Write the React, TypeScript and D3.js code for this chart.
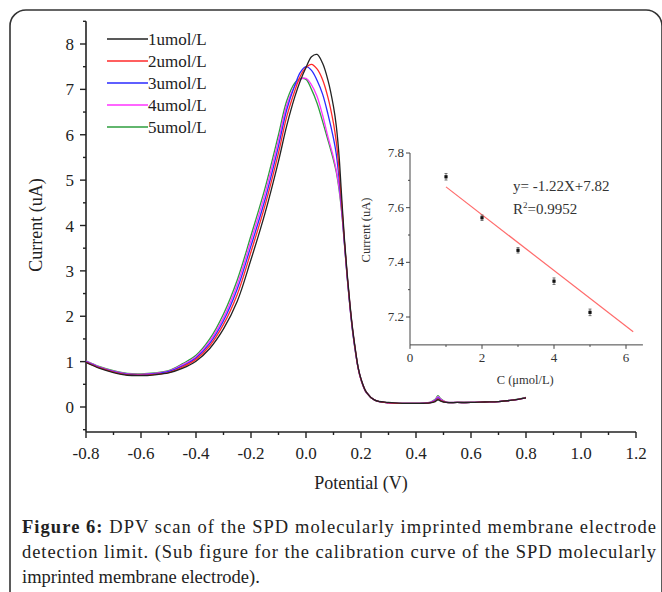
import React from "react";
import * as d3 from "d3";

// ---------- Data ----------
const potentials = [-0.8, -0.75, -0.7, -0.65, -0.6, -0.55, -0.5, -0.45, -0.4, -0.35, -0.3, -0.25, -0.2, -0.15, -0.1, -0.07, -0.04, -0.02, 0, 0.02, 0.04, 0.06, 0.08, 0.1, 0.11, 0.12, 0.13, 0.14, 0.15, 0.16, 0.17, 0.18, 0.19, 0.2, 0.22, 0.25, 0.3, 0.35, 0.4, 0.45, 0.47, 0.48, 0.49, 0.51, 0.55, 0.6, 0.65, 0.7, 0.75, 0.8];

const series1 = [0.98, 0.85, 0.76, 0.7, 0.69, 0.71, 0.75, 0.85, 1.01, 1.29, 1.72, 2.33, 3.25, 4.25, 5.42, 6.2, 6.85, 7.2, 7.48, 7.72, 7.77, 7.58, 7.2, 6.62, 6.2, 5.55, 4.6, 3.68, 2.92, 2.26, 1.7, 1.25, 0.86, 0.62, 0.32, 0.15, 0.1, 0.08, 0.08, 0.09, 0.12, 0.16, 0.13, 0.1, 0.1, 0.1, 0.11, 0.12, 0.15, 0.2];
const series2 = [0.99, 0.86, 0.77, 0.71, 0.7, 0.72, 0.76, 0.88, 1.05, 1.35, 1.82, 2.48, 3.42, 4.42, 5.6, 6.4, 6.98, 7.3, 7.48, 7.55, 7.45, 7.22, 6.82, 6.25, 5.85, 5.25, 4.45, 3.64, 2.88, 2.23, 1.68, 1.23, 0.85, 0.61, 0.32, 0.15, 0.09, 0.08, 0.08, 0.09, 0.13, 0.18, 0.14, 0.1, 0.1, 0.1, 0.11, 0.12, 0.15, 0.2];
const series3 = [1.0, 0.87, 0.78, 0.72, 0.71, 0.73, 0.78, 0.9, 1.08, 1.4, 1.9, 2.6, 3.55, 4.55, 5.75, 6.55, 7.1, 7.38, 7.5, 7.42, 7.2, 6.9, 6.45, 5.92, 5.58, 5.05, 4.38, 3.6, 2.86, 2.21, 1.66, 1.22, 0.85, 0.61, 0.32, 0.15, 0.09, 0.08, 0.08, 0.09, 0.14, 0.2, 0.15, 0.1, 0.1, 0.1, 0.11, 0.12, 0.15, 0.2];
const series4 = [1.01, 0.88, 0.79, 0.73, 0.72, 0.74, 0.79, 0.93, 1.11, 1.45, 1.97, 2.7, 3.67, 4.68, 5.88, 6.65, 7.08, 7.22, 7.24, 7.1, 6.85, 6.44, 5.95, 5.5, 5.22, 4.85, 4.3, 3.58, 2.85, 2.2, 1.65, 1.21, 0.84, 0.6, 0.31, 0.15, 0.09, 0.08, 0.08, 0.1, 0.16, 0.23, 0.17, 0.11, 0.1, 0.1, 0.11, 0.12, 0.15, 0.2];
const series5 = [1.02, 0.89, 0.8, 0.74, 0.73, 0.75, 0.8, 0.95, 1.14, 1.5, 2.05, 2.8, 3.78, 4.8, 6.0, 6.75, 7.15, 7.24, 7.22, 7.0, 6.7, 6.3, 5.88, 5.44, 5.18, 4.8, 4.28, 3.57, 2.84, 2.19, 1.64, 1.2, 0.84, 0.6, 0.31, 0.15, 0.09, 0.08, 0.08, 0.1, 0.17, 0.25, 0.18, 0.11, 0.1, 0.1, 0.11, 0.12, 0.15, 0.21];

const seriesNames = ["1umol/L", "2umol/L", "3umol/L", "4umol/L", "5umol/L"];
const seriesColors = ["#222222", "#ff2a2a", "#2a2aff", "#ff33ff", "#2e9e3e"];
const allSeries = [series1, series2, series3, series4, series5];
const drawOrder = [4, 3, 2, 1, 0];

const xTicks = [-0.8, -0.6, -0.4, -0.2, 0.0, 0.2, 0.4, 0.6, 0.8, 1.0, 1.2];
const yTicks = [0, 1, 2, 3, 4, 5, 6, 7, 8];

// inset calibration data
const calC = [1, 2, 3, 4, 5];
const calI = [7.713, 7.563, 7.444, 7.331, 7.217];
const calErr = [0.012, 0.01, 0.01, 0.012, 0.012];
const fitX = [1.0, 6.2];
const fitY = [7.676, 7.146];
const insetXTicks = [0, 2, 4, 6];
const insetYTicks = [7.2, 7.4, 7.6, 7.8];

const captionLines = [
  "DPV scan of the SPD molecularly imprinted membrane electrode",
  "detection limit. (Sub figure for the calibration curve of the SPD molecularly",
  "imprinted membrane electrode).",
];

const FONT = "'Liberation Serif', 'Times New Roman', serif";

export default function App() {
  const W = 662, H = 592;
  const x = d3.scaleLinear().domain([-0.8, 1.2]).range([86, 636]);
  const y = d3.scaleLinear().domain([0, 8]).range([407, 44]);
  const yBottom = 432;
  const yTop = y(8.5);

  const line = d3
    .line<number>()
    .x((_, i) => x(potentials[i]))
    .y((d) => y(d))
    .curve(d3.curveCatmullRom.alpha(0.5));

  const xMinor = d3.range(-0.7, 1.2, 0.2);
  const yMinor = d3.range(-0.5, 8.6, 1);

  // inset scales
  const ix = d3.scaleLinear().domain([0, 6]).range([410, 626]);
  const iy = d3.scaleLinear().domain([7.2, 7.8]).range([317, 153]);
  const ixEnd = ix(6.47);
  const iyBottom = iy(7.098);
  const ixMinor = [1, 3, 5];
  const iyMinor = [7.3, 7.5, 7.7];

  return (
    <svg width={W} height={H} style={{ position: "absolute", left: 0, top: 0 }} fontFamily={FONT}>
      <rect x={0} y={0} width={W} height={H} fill="#fff" />
      <rect x={10} y={10} width={652} height={600} rx={16} ry={16} fill="none" stroke="#333" strokeWidth={1.6} />

      {/* main axes */}
      <line x1={86} x2={86} y1={yTop} y2={yBottom} stroke="#222" strokeWidth={1.6} />
      <line x1={86} x2={636} y1={yBottom} y2={yBottom} stroke="#222" strokeWidth={1.6} />
      {xTicks.map((t) => (
        <g key={"xt" + t}>
          <line x1={x(t)} x2={x(t)} y1={yBottom} y2={yBottom + 6} stroke="#222" strokeWidth={1.4} />
          <text x={x(t)} y={459} textAnchor="middle" fontSize={17} fill="#222">
            {t.toFixed(1)}
          </text>
        </g>
      ))}
      {xMinor.map((t) => (
        <line key={"xm" + t} x1={x(t)} x2={x(t)} y1={yBottom} y2={yBottom + 3} stroke="#222" strokeWidth={1.4} />
      ))}
      {yTicks.map((t) => (
        <g key={"yt" + t}>
          <line x1={80} x2={86} y1={y(t)} y2={y(t)} stroke="#222" strokeWidth={1.4} />
          <text x={74} y={y(t) + 6} textAnchor="end" fontSize={17} fill="#222">
            {t}
          </text>
        </g>
      ))}
      {yMinor.map((t) => (
        <line key={"ym" + t} x1={83} x2={86} y1={y(t)} y2={y(t)} stroke="#222" strokeWidth={1.4} />
      ))}
      <text x={361} y={489} textAnchor="middle" fontSize={18} fill="#222">
        Potential (V)
      </text>
      <text transform={`translate(42,225) rotate(-90)`} textAnchor="middle" fontSize={18} fill="#222">
        Current (uA)
      </text>

      {/* curves */}
      {drawOrder.map((i) => (
        <path key={"s" + i} d={line(allSeries[i]) || ""} fill="none" stroke={seriesColors[i]} strokeWidth={1.3} />
      ))}

      {/* legend */}
      {seriesNames.map((n, i) => (
        <g key={"lg" + i}>
          <line x1={107} x2={148} y1={39 + i * 22} y2={39 + i * 22} stroke={seriesColors[i]} strokeWidth={1.4} />
          <text x={148} y={45 + i * 22} fontSize={17} fill="#222">
            {n}
          </text>
        </g>
      ))}

      {/* inset */}
      <line x1={410} x2={410} y1={153} y2={iyBottom} stroke="#444" strokeWidth={1} />
      <line x1={410} x2={ixEnd} y1={iyBottom} y2={iyBottom} stroke="#444" strokeWidth={1} />
      {insetXTicks.map((t) => (
        <g key={"ixt" + t}>
          <line x1={ix(t)} x2={ix(t)} y1={iyBottom} y2={iyBottom + 4} stroke="#444" strokeWidth={1} />
          <text x={ix(t)} y={iyBottom + 17} textAnchor="middle" fontSize={13} fill="#333">
            {t}
          </text>
        </g>
      ))}
      {ixMinor.map((t) => (
        <line key={"ixm" + t} x1={ix(t)} x2={ix(t)} y1={iyBottom} y2={iyBottom + 2} stroke="#444" strokeWidth={1} />
      ))}
      {insetYTicks.map((t) => (
        <g key={"iyt" + t}>
          <line x1={406} x2={410} y1={iy(t)} y2={iy(t)} stroke="#444" strokeWidth={1} />
          <text x={404} y={iy(t) + 4} textAnchor="end" fontSize={13} fill="#333">
            {t.toFixed(1)}
          </text>
        </g>
      ))}
      {iyMinor.map((t) => (
        <line key={"iym" + t} x1={408} x2={410} y1={iy(t)} y2={iy(t)} stroke="#444" strokeWidth={1} />
      ))}
      <text x={ix(3.2)} y={384} textAnchor="middle" fontSize={12.5} fill="#333">
        C (μmol/L)
      </text>
      <text transform={`translate(370,230) rotate(-90)`} textAnchor="middle" fontSize={12.5} fill="#333">
        Current (uA)
      </text>
      <line x1={ix(fitX[0])} x2={ix(fitX[1])} y1={iy(fitY[0])} y2={iy(fitY[1])} stroke="#ff6b6b" strokeWidth={1.2} />
      {calC.map((c, i) => (
        <g key={"cp" + i}>
          <line x1={ix(c)} x2={ix(c)} y1={iy(calI[i] + calErr[i])} y2={iy(calI[i] - calErr[i])} stroke="#555" strokeWidth={0.8} />
          <line x1={ix(c) - 1.5} x2={ix(c) + 1.5} y1={iy(calI[i] + calErr[i])} y2={iy(calI[i] + calErr[i])} stroke="#555" strokeWidth={0.8} />
          <line x1={ix(c) - 1.5} x2={ix(c) + 1.5} y1={iy(calI[i] - calErr[i])} y2={iy(calI[i] - calErr[i])} stroke="#555" strokeWidth={0.8} />
          <rect x={ix(c) - 1.6} y={iy(calI[i]) - 1.6} width={3.2} height={3.2} fill="#111" />
        </g>
      ))}
      <text x={513} y={191} fontSize={15} fill="#333">
        y= -1.22X+7.82
      </text>
      <text x={513} y={214} fontSize={15} fill="#333">
        R<tspan dy={-6} fontSize={9}>2</tspan>
        <tspan dy={6}>=0.9952</tspan>
      </text>

      {/* caption */}
      <text x={22} y={533} fontSize={18.5} fill="#222" textLength={634} lengthAdjust="spacing">
        <tspan fontWeight="bold">Figure 6:</tspan> {captionLines[0]}
      </text>
      <text x={22} y={558} fontSize={18.5} fill="#222" textLength={634} lengthAdjust="spacing">
        {captionLines[1]}
      </text>
      <text x={22} y={583} fontSize={18.5} fill="#222">
        {captionLines[2]}
      </text>
    </svg>
  );
}
